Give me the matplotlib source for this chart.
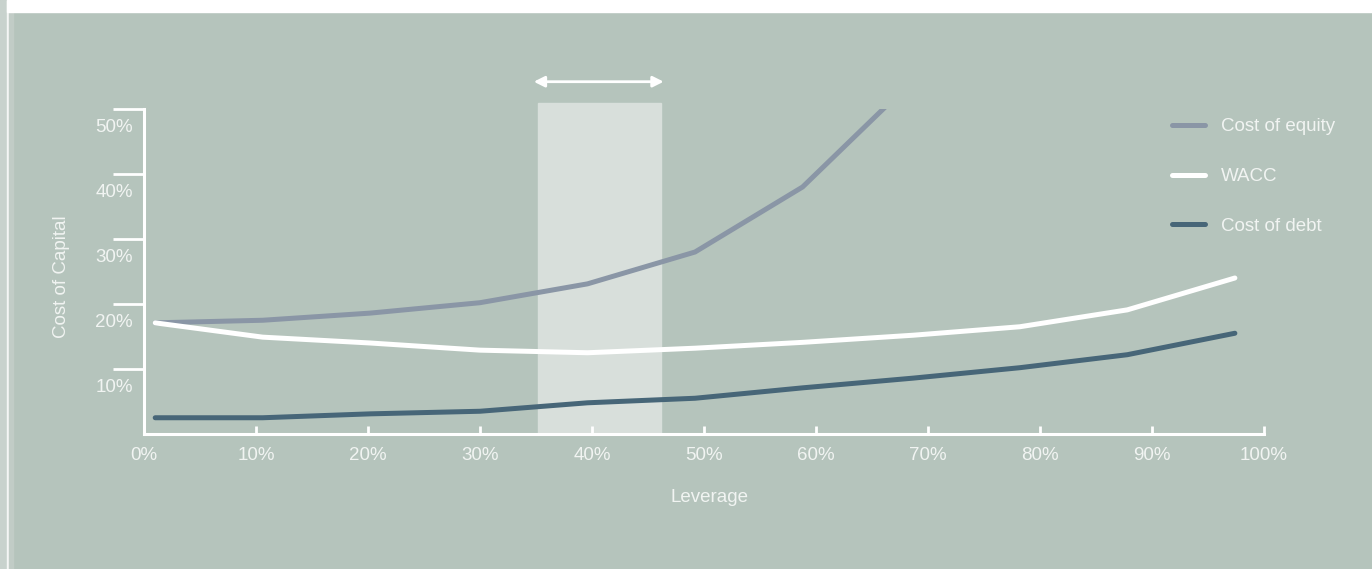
import numpy as np
import matplotlib
matplotlib.use("Agg")
import matplotlib.pyplot as plt
from matplotlib.patches import Rectangle
from matplotlib.lines import Line2D

# data (in %)
leverage = [1, 10.6, 20.2, 30, 39.6, 49.2, 58.8, 68.7, 78.2, 87.8, 97.4]
cost_equity = [17.1, 17.5, 18.6, 20.2, 23.1, 28.0, 38.0, 54.5]
wacc = [17.1, 14.9, 14.0, 12.9, 12.5, 13.2, 14.1, 15.2, 16.5, 19.1, 24.0]
cost_debt = [2.5, 2.5, 3.1, 3.5, 4.8, 5.5, 7.1, 8.6, 10.2, 12.2, 15.5]
optimal_range = [35.2, 46.2]
xticks = [0, 10, 20, 30, 40, 50, 60, 70, 80, 90, 100]
yticks = [10, 20, 30, 40, 50]

bg = "#b5c4bc"
txt = "#f1f4f2"
c_eq = "#8a96a6"
c_wacc = "#ffffff"
c_debt = "#476678"
fs = 13.5

plt.rcParams["font.family"] = ["Liberation Sans", "DejaVu Sans"]

W, H = 1372, 569
fig = plt.figure(figsize=(W / 100, H / 100), dpi=100, facecolor=bg)

# frame strips
fig.patches.append(Rectangle((0, 0), 7 / W, 1, transform=fig.transFigure, color="#c8d2cd", zorder=0))
fig.patches.append(Rectangle((7 / W, 0), 1.5 / W, 1, transform=fig.transFigure, color="#f4f6f5", zorder=0))
fig.patches.append(Rectangle((8.5 / W, 0), 4 / W, 1 - 12 / H, transform=fig.transFigure, color="#c1ccc6", zorder=0))
fig.patches.append(Rectangle((7 / W, 1 - 12 / H), 1, 12 / H, transform=fig.transFigure, color="#ffffff", zorder=0))

ax = fig.add_axes([144 / W, 135 / H, 1120 / W, 325 / H])
ax.set_facecolor("none")
ax.set_xlim(0, 100)
ax.set_ylim(0, 50)

# shaded optimal area and arrow
ax.add_patch(Rectangle((optimal_range[0], 0), optimal_range[1] - optimal_range[0], 50.9,
                       color="#d8dfdb", zorder=1, clip_on=False))
ax.annotate("", xy=(optimal_range[0] - 0.4, 54.2), xytext=(optimal_range[1] + 0.2, 54.2),
            arrowprops=dict(arrowstyle="<|-|>", color="white", lw=2, mutation_scale=16,
                            shrinkA=0, shrinkB=0),
            annotation_clip=False)

ax.plot(leverage[:len(cost_equity)], cost_equity, color=c_eq, lw=3.6, solid_capstyle="round",
        solid_joinstyle="round", zorder=3)
ax.plot(leverage, wacc, color=c_wacc, lw=3.6, solid_capstyle="round", solid_joinstyle="round", zorder=4)
ax.plot(leverage, cost_debt, color=c_debt, lw=3.6, solid_capstyle="round", solid_joinstyle="round", zorder=4)

for s in ["top", "right"]:
    ax.spines[s].set_visible(False)
for s in ["left", "bottom"]:
    ax.spines[s].set_color("white")
    ax.spines[s].set_linewidth(2.2)
    ax.spines[s].set_zorder(5)

ax.set_xticks(xticks)
ax.set_xticklabels([f"{t}%" for t in xticks])
ax.tick_params(axis="x", direction="in", length=6, width=2, color="white",
               labelcolor=txt, labelsize=fs, pad=9)
ax.set_yticks(yticks)
ax.set_yticklabels([])
ax.tick_params(axis="y", direction="out", length=22, width=2, color="white")
# y labels sit a bit below their ticks
for t in yticks:
    ax.text(-11 / 1120, t - 2.9, f"{t}%", transform=ax.get_yaxis_transform(), ha="right",
            va="center", color=txt, fontsize=fs)

fig.text(62 / W, 1 - 277 / H, "Cost of Capital", rotation=90, ha="center", va="center",
         color=txt, fontsize=fs)
fig.text(710 / W, 1 - 497 / H, "Leverage", ha="center", va="center", color=txt, fontsize=fs)

handles = [Line2D([], [], color=c_eq, lw=3.6, solid_capstyle="round"),
           Line2D([], [], color=c_wacc, lw=3.6, solid_capstyle="round"),
           Line2D([], [], color=c_debt, lw=3.6, solid_capstyle="round")]
leg = fig.legend(handles, ["Cost of equity", "WACC", "Cost of debt"], loc="upper left",
                 bbox_to_anchor=(1172 / W, 1 - 118 / H), frameon=False, fontsize=fs,
                 handlelength=1.76, handletextpad=0.85, labelspacing=1.75,
                 borderpad=0, borderaxespad=0)
for t in leg.get_texts():
    t.set_color(txt)

fig.savefig("out.png", dpi=100, facecolor=bg)
